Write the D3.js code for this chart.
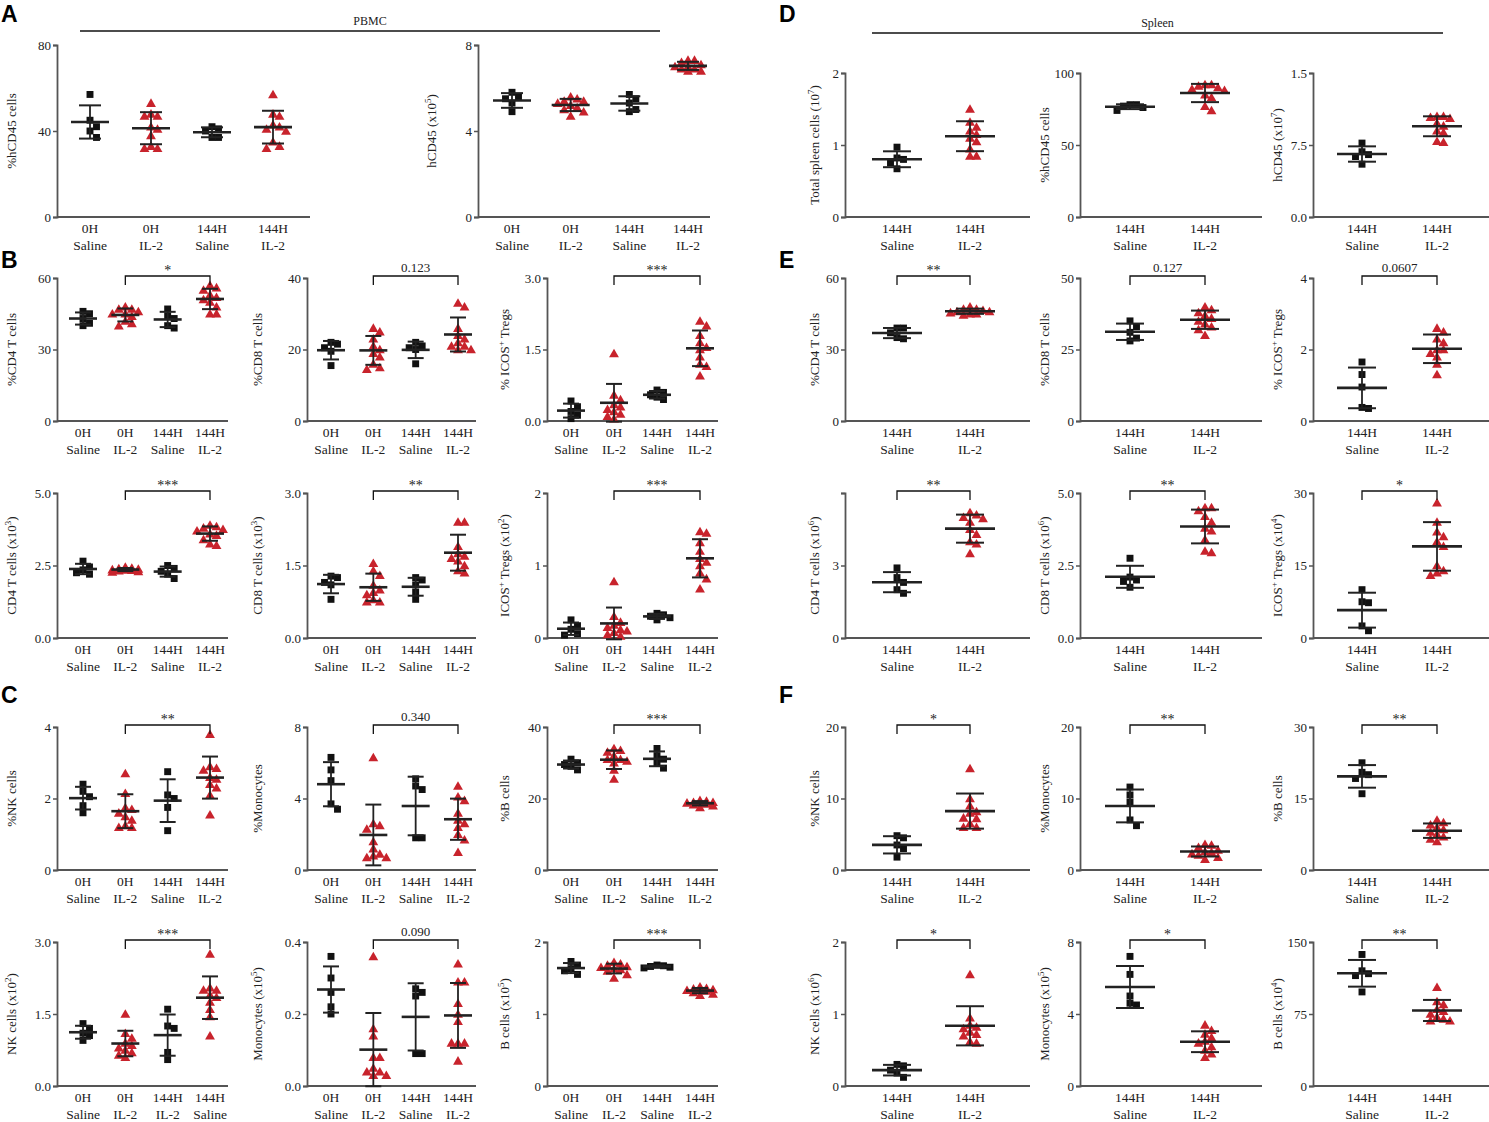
<!DOCTYPE html>
<html lang="en">
<head>
<meta charset="UTF-8">
<title>PBMC and spleen scatter plots</title>
<script src="https://d3js.org/d3.v7.min.js"></script>
<style>
  body { margin: 0; background: #fff; }
  text { font-family: "Liberation Serif", "DejaVu Serif", serif; fill: #222; }
  .letter { font-family: "Liberation Sans", Arial, sans-serif; font-weight: bold; font-size: 23px; fill: #000; }
  .axis { stroke: #555; stroke-width: 1.8; fill: none; }
  .bar { stroke: #222; fill: none; }
</style>
</head>
<body>
<svg id="fig" width="1489" height="1122"></svg>
<script>
// ---- groups (x categories) ----
const pbmcGroups = [["0H", "Saline"], ["0H", "IL-2"], ["144H", "Saline"], ["144H", "IL-2"]];
const pbmcGroupsNk = [["0H", "Saline"], ["0H", "IL-2"], ["144H", "IL-2"], ["144H", "Saline"]];
const spleenGroups = [["144H", "Saline"], ["144H", "IL-2"]];

// ---- A: PBMC ----
const pbmcHcd45Pct = [[57, 45, 42, 40, 37], [53, 48, 47, 47, 42, 41, 38, 33, 32, 32], [42, 41, 40, 37, 37], [57, 48, 47, 43, 42, 41, 40, 35, 33, 32]];
const pbmcHcd45Abs = [[5.8, 5.6, 5.5, 5.3, 4.9], [5.6, 5.5, 5.4, 5.4, 5.3, 5.2, 5.1, 5.0, 4.9, 4.7], [5.7, 5.5, 5.3, 5.0, 4.9], [7.3, 7.3, 7.2, 7.1, 7.0, 7.0, 6.9, 6.9, 6.8, 6.8]];
// ---- D: spleen ----
const spleenTotal = [[0.97, 0.82, 0.8, 0.75, 0.67], [1.5, 1.32, 1.25, 1.2, 1.15, 1.1, 1.05, 0.95, 0.85, 0.85]];
const spleenHcd45Pct = [[78, 78, 77, 76, 74], [92, 92, 91, 90, 89, 88, 85, 83, 77, 74]];
const spleenHcd45Abs = [[0.77, 0.68, 0.65, 0.63, 0.55], [1.05, 1.05, 1.04, 1.03, 0.98, 0.95, 0.9, 0.88, 0.79, 0.78]];
// ---- B: PBMC T cells ----
const pbmcCd4Pct = [[46, 45, 43, 41, 40], [48, 47, 47, 46, 45, 45, 44, 42, 41, 40], [47, 44, 43, 40, 39], [57, 56, 55, 53, 52, 51, 50, 48, 45, 45]];
const pbmcCd8Pct = [[22, 21.5, 20.5, 19.5, 15.5], [26, 25, 23, 21, 20, 19, 18, 16, 15, 14.5], [22, 21, 20.5, 20, 16], [33, 32, 26, 24, 23, 22, 21, 21, 20, 20]];
const pbmcIcosPct = [[0.42, 0.3, 0.2, 0.12, 0.05], [1.42, 0.55, 0.45, 0.35, 0.3, 0.25, 0.2, 0.15, 0.1, 0.05], [0.65, 0.6, 0.55, 0.5, 0.45], [2.1, 2.0, 1.8, 1.65, 1.55, 1.5, 1.35, 1.2, 1.15, 0.95]];
const pbmcCd4Abs = [[2.65, 2.45, 2.35, 2.25, 2.2], [2.45, 2.42, 2.4, 2.38, 2.36, 2.35, 2.34, 2.32, 2.3, 2.28], [2.5, 2.4, 2.3, 2.2, 2.05], [3.9, 3.85, 3.8, 3.75, 3.7, 3.6, 3.55, 3.4, 3.25, 3.2]];
const pbmcCd8Abs = [[1.28, 1.25, 1.15, 1.1, 0.8], [1.55, 1.4, 1.3, 1.1, 1.0, 0.95, 0.9, 0.8, 0.75, 0.75], [1.25, 1.2, 1.1, 0.95, 0.8], [2.4, 2.4, 1.9, 1.75, 1.7, 1.65, 1.6, 1.5, 1.4, 1.35]];
const pbmcIcosAbs = [[0.25, 0.17, 0.12, 0.06, 0.04], [0.78, 0.3, 0.22, 0.18, 0.15, 0.12, 0.1, 0.08, 0.05, 0.03], [0.34, 0.32, 0.3, 0.28, 0.25], [1.47, 1.45, 1.32, 1.2, 1.1, 1.05, 1.0, 0.9, 0.82, 0.68]];
// ---- E: spleen T cells ----
const spleenCd4Pct = [[39, 39, 37, 35, 34.5], [48, 47, 47, 46.5, 46, 46, 45.5, 45, 45, 44.5]];
const spleenCd8Pct = [[35, 33, 31, 29, 28], [40, 39, 38, 37, 36, 35, 34, 33, 32, 30]];
const spleenIcosPct = [[1.65, 1.3, 0.95, 0.38, 0.35], [2.6, 2.5, 2.3, 2.2, 2.0, 2.0, 1.9, 1.8, 1.6, 1.3]];
const spleenCd4Abs = [[2.9, 2.5, 2.3, 2.0, 1.85], [5.2, 5.1, 5.0, 4.95, 4.8, 4.5, 4.3, 4.0, 3.9, 3.5]];
const spleenCd8Abs = [[2.75, 2.1, 2.0, 1.95, 1.75], [4.5, 4.5, 4.4, 4.2, 4.0, 3.8, 3.7, 3.4, 3.0, 2.95]];
const spleenIcosAbs = [[10, 7.5, 7.3, 2.5, 1.5], [28, 24, 22, 21, 20, 19, 15, 14, 13.5, 13]];
// ---- C: PBMC NK / monocytes / B ----
const pbmcNkPct = [[2.4, 2.2, 2.05, 1.8, 1.6], [2.7, 2.15, 1.75, 1.7, 1.6, 1.5, 1.4, 1.25, 1.2, 1.2], [2.75, 2.1, 2.0, 1.75, 1.1], [3.8, 2.9, 2.85, 2.8, 2.6, 2.55, 2.4, 2.3, 2.1, 1.55]];
const pbmcMonoPct = [[6.3, 5.6, 5.0, 3.7, 3.4], [6.3, 2.6, 2.5, 2.3, 1.6, 1.2, 0.9, 0.8, 0.7, 0.7], [5.1, 4.7, 4.5, 1.8, 1.8], [4.7, 4.1, 3.9, 3.2, 2.8, 2.6, 2.4, 2.0, 1.7, 1.0]];
const pbmcBPct = [[31, 30, 29.5, 29, 28], [34, 33.5, 33, 32, 31, 31, 30.5, 30, 28, 25.5], [34, 32, 31, 30, 28.5], [19.5, 19.3, 19, 19, 18.8, 18.8, 18.5, 18.3, 18, 17.5]];
const pbmcNkAbs = [[1.3, 1.2, 1.1, 1.05, 0.95], [1.5, 1.1, 1.0, 0.9, 0.85, 0.8, 0.75, 0.7, 0.65, 0.6], [1.6, 1.25, 1.2, 0.7, 0.55], [2.75, 2.05, 2.0, 2.0, 1.9, 1.85, 1.75, 1.6, 1.45, 1.05]];
const pbmcMonoAbs = [[0.36, 0.3, 0.26, 0.22, 0.2], [0.36, 0.16, 0.14, 0.08, 0.08, 0.05, 0.04, 0.04, 0.03, 0.03], [0.27, 0.26, 0.25, 0.09, 0.09], [0.34, 0.29, 0.29, 0.23, 0.2, 0.18, 0.12, 0.12, 0.12, 0.07]];
const pbmcBAbs = [[1.73, 1.68, 1.63, 1.6, 1.55], [1.72, 1.7, 1.68, 1.66, 1.65, 1.63, 1.62, 1.6, 1.55, 1.5], [1.68, 1.67, 1.66, 1.65, 1.64], [1.38, 1.36, 1.35, 1.34, 1.33, 1.33, 1.32, 1.3, 1.28, 1.26]];
// ---- F: spleen NK / monocytes / B ----
const spleenNkPct = [[4.8, 4.5, 3.5, 3.0, 1.8], [14.2, 10.0, 9.0, 8.2, 8.0, 7.3, 7.2, 6.5, 6.0, 6.0]];
const spleenMonoPct = [[11.6, 10.5, 9.5, 7.0, 6.2], [3.6, 3.5, 3.2, 2.8, 2.6, 2.5, 2.3, 2.1, 1.8, 1.5]];
const spleenBPct = [[22.5, 20.5, 20, 19.2, 16], [10.5, 10.0, 9.5, 9.0, 8.5, 8.0, 7.5, 7.0, 6.5, 6.0]];
const spleenNkAbs = [[0.3, 0.28, 0.22, 0.18, 0.12], [1.55, 0.95, 0.85, 0.82, 0.8, 0.75, 0.72, 0.7, 0.62, 0.6]];
const spleenMonoAbs = [[7.2, 6.2, 5.0, 4.6, 4.5], [3.4, 3.1, 2.9, 2.7, 2.5, 2.4, 2.2, 2.0, 1.8, 1.6]];
const spleenBAbs = [[137, 120, 117, 115, 98], [103, 88, 85, 80, 78, 75, 72, 70, 68, 68]];

// ---- y tick labels ----
const ticksD3Text = ["0.0", "7.5", "1.5"];
const ticksE4Text = ["0", "3", ""];

// ---- layout (pixels) ----
const rows = { a: [45, 217], d: [73, 217], r2: [278, 421], r3: [493, 638], r4: [727, 870], r5: [942, 1086] };
const colsA = [{ ax: 57, cats: [90, 273], end: 310, lab: 12 }, { ax: 478, cats: [512, 688], end: 710, lab: 432 }];
const colsL = [{ ax: 57, cats: [83, 210], end: 228, lab: 12 }, { ax: 307, cats: [331, 458], end: 476, lab: 258 },
               { ax: 547, cats: [571, 700], end: 718, lab: 505 }];
const colsR = [{ ax: 845, cats: [897, 970], end: 1030, lab: 815 }, { ax: 1080, cats: [1130, 1205], end: 1262, lab: 1045 },
               { ax: 1313, cats: [1362, 1437], end: 1489, lab: 1278 }];

const panels = [
  { col: colsA[0], row: rows.a, groups: pbmcGroups, values: pbmcHcd45Pct, max: 80, fmt: "d", label: "%hCD45 cells", wide: 38, cap: 22 },
  { col: colsA[1], row: rows.a, groups: pbmcGroups, values: pbmcHcd45Abs, max: 8, fmt: "d", label: "hCD45 (x10^5)", wide: 38, cap: 22 },
  { col: colsR[0], row: rows.d, groups: spleenGroups, values: spleenTotal, max: 2, fmt: "d", label: "Total spleen cells (10^7)" },
  { col: colsR[1], row: rows.d, groups: spleenGroups, values: spleenHcd45Pct, max: 100, fmt: "d", label: "%hCD45 cells" },
  { col: colsR[2], row: rows.d, groups: spleenGroups, values: spleenHcd45Abs, max: 1.5, text: ticksD3Text, label: "hCD45 (x10^7)" },

  { col: colsL[0], row: rows.r2, groups: pbmcGroups, values: pbmcCd4Pct, max: 60, fmt: "d", label: "%CD4 T cells", sig: "*" },
  { col: colsL[1], row: rows.r2, groups: pbmcGroups, values: pbmcCd8Pct, max: 40, fmt: "d", label: "%CD8 T cells", sig: "0.123" },
  { col: colsL[2], row: rows.r2, groups: pbmcGroups, values: pbmcIcosPct, max: 3, fmt: ".1f", label: "% ICOS^+ Tregs", sig: "***" },
  { col: colsL[0], row: rows.r3, groups: pbmcGroups, values: pbmcCd4Abs, max: 5, fmt: ".1f", label: "CD4 T cells (x10^3)", sig: "***" },
  { col: colsL[1], row: rows.r3, groups: pbmcGroups, values: pbmcCd8Abs, max: 3, fmt: ".1f", label: "CD8 T cells (x10^3)", sig: "**" },
  { col: colsL[2], row: rows.r3, groups: pbmcGroups, values: pbmcIcosAbs, max: 2, fmt: "d", label: "ICOS^+ Tregs (x10^2)", sig: "***" },

  { col: colsR[0], row: rows.r2, groups: spleenGroups, values: spleenCd4Pct, max: 60, fmt: "d", label: "%CD4 T cells", sig: "**" },
  { col: colsR[1], row: rows.r2, groups: spleenGroups, values: spleenCd8Pct, max: 50, fmt: "d", label: "%CD8 T cells", sig: "0.127" },
  { col: colsR[2], row: rows.r2, groups: spleenGroups, values: spleenIcosPct, max: 4, fmt: "d", label: "% ICOS^+ Tregs", sig: "0.0607" },
  { col: colsR[0], row: rows.r3, groups: spleenGroups, values: spleenCd4Abs, max: 6, text: ticksE4Text, label: "CD4 T cells (x10^6)", sig: "**" },
  { col: colsR[1], row: rows.r3, groups: spleenGroups, values: spleenCd8Abs, max: 5, fmt: ".1f", label: "CD8 T cells (x10^6)", sig: "**" },
  { col: colsR[2], row: rows.r3, groups: spleenGroups, values: spleenIcosAbs, max: 30, fmt: "d", label: "ICOS^+ Tregs (x10^4)", sig: "*" },

  { col: colsL[0], row: rows.r4, groups: pbmcGroups, values: pbmcNkPct, max: 4, fmt: "d", label: "%NK cells", sig: "**" },
  { col: colsL[1], row: rows.r4, groups: pbmcGroups, values: pbmcMonoPct, max: 8, fmt: "d", label: "%Monocytes", sig: "0.340" },
  { col: colsL[2], row: rows.r4, groups: pbmcGroups, values: pbmcBPct, max: 40, fmt: "d", label: "%B cells", sig: "***" },
  { col: colsL[0], row: rows.r5, groups: pbmcGroupsNk, values: pbmcNkAbs, max: 3, fmt: ".1f", label: "NK cells (x10^2)", sig: "***" },
  { col: colsL[1], row: rows.r5, groups: pbmcGroups, values: pbmcMonoAbs, max: 0.4, fmt: ".1f", label: "Monocytes (x10^5)", sig: "0.090" },
  { col: colsL[2], row: rows.r5, groups: pbmcGroups, values: pbmcBAbs, max: 2, fmt: "d", label: "B cells (x10^5)", sig: "***" },

  { col: colsR[0], row: rows.r4, groups: spleenGroups, values: spleenNkPct, max: 20, fmt: "d", label: "%NK cells", sig: "*" },
  { col: colsR[1], row: rows.r4, groups: spleenGroups, values: spleenMonoPct, max: 20, fmt: "d", label: "%Monocytes", sig: "**" },
  { col: colsR[2], row: rows.r4, groups: spleenGroups, values: spleenBPct, max: 30, fmt: "d", label: "%B cells", sig: "**" },
  { col: colsR[0], row: rows.r5, groups: spleenGroups, values: spleenNkAbs, max: 2, fmt: "d", label: "NK cells (x10^6)", sig: "*" },
  { col: colsR[1], row: rows.r5, groups: spleenGroups, values: spleenMonoAbs, max: 8, fmt: "d", label: "Monocytes (x10^5)", sig: "*" },
  { col: colsR[2], row: rows.r5, groups: spleenGroups, values: spleenBAbs, max: 150, fmt: "d", label: "B cells (x10^4)", sig: "**" }
];

const svg = d3.select("#fig");
const red = "#c8232c";

// small beeswarm: spread points sideways, but never further than maxOff
function dodge(vals, y, step, maxOff) {
  const placed = [], offs = [];
  const cands = [0];
  for (let k = 1; k * step <= maxOff; k++) cands.push(k * step, -k * step);
  d3.range(vals.length).sort((a, b) => vals[b] - vals[a]).forEach(i => {
    const py = y(vals[i]);
    let best = 0, bestD = -1;
    for (const dx of cands) {
      const dmin = placed.length ? d3.min(placed, p => Math.hypot(p[0] - dx, p[1] - py)) : Infinity;
      if (dmin >= step) { best = dx; bestD = dmin; break; }
      if (dmin > bestD) { bestD = dmin; best = dx; }
    }
    offs[i] = best; placed.push([best, py]);
  });
  return offs;
}

// label text with ^x superscript
function addLabel(t, str) {
  str.split(/\^(.)/).forEach((p, i) => {
    if (!p) return;
    if (i % 2) t.append("tspan").attr("baseline-shift", "super").attr("font-size", 9).text(p);
    else t.append("tspan").text(p);
  });
}

panels.forEach(p => {
  const [top, bot] = p.row;
  const c = p.col;
  const y = d3.scaleLinear().domain([0, p.max]).range([bot, top]);
  const x = d3.scalePoint().domain(d3.range(p.groups.length)).range(c.cats);
  const four = p.groups.length === 4;
  const wide = p.wide || (four ? 28 : 50), cap = p.cap || (four ? 16 : 28);
  const tickVals = [0, p.max / 2, p.max];

  const g = svg.append("g");
  const yAx = d3.axisLeft(y).tickValues(tickVals).tickSize(4).tickPadding(2)
    .tickFormat((d, i) => p.text ? p.text[i] : d3.format(p.fmt)(d));
  const ya = g.append("g").attr("transform", `translate(${c.ax},0)`).call(yAx);
  ya.select(".domain").attr("stroke", "#555").attr("stroke-width", 1.8);
  ya.selectAll(".tick line").attr("stroke", "#555").attr("stroke-width", 1.5);
  ya.selectAll(".tick text").attr("font-size", 13).attr("font-family", "Liberation Serif").attr("fill", "#333");

  g.append("line").attr("class", "axis").attr("x1", c.ax).attr("x2", c.end).attr("y1", bot).attr("y2", bot);

  // x labels
  p.groups.forEach((gr, i) => {
    const t = g.append("text").attr("x", x(i)).attr("text-anchor", "middle").attr("font-size", 13.5);
    t.append("tspan").attr("x", x(i)).attr("y", bot + 16).text(gr[0]);
    t.append("tspan").attr("x", x(i)).attr("y", bot + 33).text(gr[1]);
  });

  // y label
  const lt = g.append("text").attr("font-size", 13).attr("text-anchor", "middle")
    .attr("transform", `translate(${c.lab + 4},${(top + bot) / 2}) rotate(-90)`);
  addLabel(lt, p.label);

  // points + mean ± SD
  p.values.forEach((vals, gi) => {
    const il2 = gi % 2 === 1;
    const offs = dodge(vals, y, 6.5, four ? 13 : 19.5);
    const sym = d3.symbol().type(il2 ? d3.symbolTriangle : d3.symbolSquare).size(il2 ? 42 : 48);
    g.selectAll(null).data(vals).enter().append("path")
      .attr("d", sym)
      .attr("transform", (d, k) => `translate(${x(gi) + offs[k]},${y(d) + (il2 ? 1 : 0)})`)
      .attr("fill", il2 ? red : "#111");

    const m = d3.mean(vals), sd = d3.deviation(vals);
    const cx = x(gi);
    g.append("line").attr("class", "bar").attr("stroke-width", 1.8)
      .attr("x1", cx).attr("x2", cx).attr("y1", y(m + sd)).attr("y2", y(m - sd));
    [m + sd, m - sd].forEach(v => g.append("line").attr("class", "bar").attr("stroke-width", 2)
      .attr("x1", cx - cap / 2).attr("x2", cx + cap / 2).attr("y1", y(v)).attr("y2", y(v)));
    g.append("line").attr("class", "bar").attr("stroke", "#333").attr("stroke-width", 2.6)
      .attr("x1", cx - wide / 2).attr("x2", cx + wide / 2).attr("y1", y(m)).attr("y2", y(m));
  });

  // significance bracket
  if (p.sig) {
    const x1 = x(four ? 1 : 0), x2 = x(four ? 3 : 1), by = top - 2;
    g.append("path").attr("fill", "none").attr("stroke", "#111").attr("stroke-width", 1.3)
      .attr("d", `M${x1},${by + 9}V${by}H${x2}V${by + 9}`);
    g.append("text").attr("x", (x1 + x2) / 2).attr("y", p.sig.includes("*") ? by - 1 : by - 4)
      .attr("text-anchor", "middle").attr("font-size", p.sig.includes("*") ? 14 : 13).text(p.sig);
  }
});

// section titles
[["PBMC", 80, 660, 31], ["Spleen", 872, 1443, 33]].forEach(([t, a, b, yy]) => {
  svg.append("line").attr("x1", a).attr("x2", b).attr("y1", yy).attr("y2", yy).attr("stroke", "#111").attr("stroke-width", 1.5);
  svg.append("text").attr("x", (a + b) / 2).attr("y", yy - 6).attr("text-anchor", "middle").attr("font-size", 12).text(t);
});

// panel letters
[["A", 1, 22], ["B", 1, 268], ["C", 1, 703], ["D", 779, 22], ["E", 779, 268], ["F", 779, 703]].forEach(([l, lx, ly]) =>
  svg.append("text").attr("class", "letter").attr("x", lx).attr("y", ly).text(l));
</script>
</body>
</html>
